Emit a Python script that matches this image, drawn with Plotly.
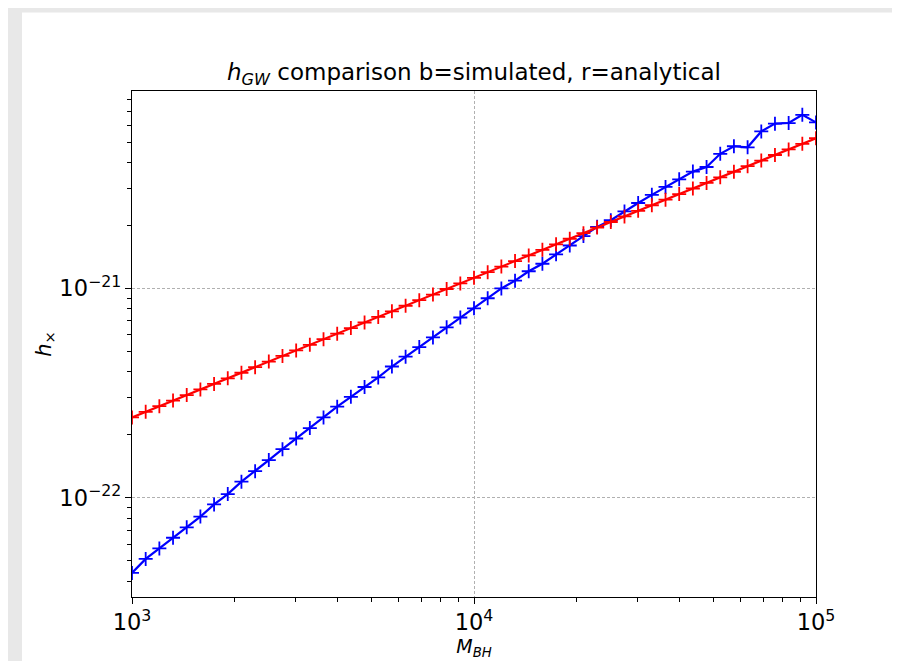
import numpy as np
import plotly.graph_objects as go

# --- DATA ---
# black hole masses, 51 log-spaced points from 1e3 to 1e5
log_m = [3.00, 3.04, 3.08, 3.12, 3.16, 3.20, 3.24, 3.28, 3.32, 3.36,
         3.40, 3.44, 3.48, 3.52, 3.56, 3.60, 3.64, 3.68, 3.72, 3.76,
         3.80, 3.84, 3.88, 3.92, 3.96, 4.00, 4.04, 4.08, 4.12, 4.16,
         4.20, 4.24, 4.28, 4.32, 4.36, 4.40, 4.44, 4.48, 4.52, 4.56,
         4.60, 4.64, 4.68, 4.72, 4.76, 4.80, 4.84, 4.88, 4.92, 4.96,
         5.00]

# simulated strain (blue)
h_simulated = [4.375e-23, 5.105e-23, 5.728e-23, 6.442e-23, 7.228e-23,
               8.128e-23, 9.290e-23, 1.042e-22, 1.194e-22, 1.340e-22,
               1.514e-22, 1.706e-22, 1.919e-22, 2.153e-22, 2.421e-22,
               2.723e-22, 3.034e-22, 3.381e-22, 3.758e-22, 4.236e-22,
               4.721e-22, 5.248e-22, 5.834e-22, 6.516e-22, 7.261e-22,
               8.035e-22, 8.974e-22, 1.000e-21, 1.089e-21, 1.208e-21,
               1.312e-21, 1.455e-21, 1.603e-21, 1.778e-21, 1.968e-21,
               2.118e-21, 2.333e-21, 2.559e-21, 2.799e-21, 3.055e-21,
               3.319e-21, 3.614e-21, 3.802e-21, 4.395e-21, 4.775e-21,
               4.721e-21, 5.623e-21, 6.124e-21, 6.166e-21, 6.745e-21,
               6.209e-21]

# analytical strain (red)
h_analytical = [2.421e-22, 2.574e-22, 2.737e-22, 2.911e-22, 3.095e-22,
                3.291e-22, 3.499e-22, 3.721e-22, 3.956e-22, 4.207e-22,
                4.473e-22, 4.757e-22, 5.058e-22, 5.378e-22, 5.719e-22,
                6.081e-22, 6.466e-22, 6.875e-22, 7.311e-22, 7.774e-22,
                8.266e-22, 8.790e-22, 9.347e-22, 9.938e-22, 1.057e-21,
                1.124e-21, 1.195e-21, 1.271e-21, 1.351e-21, 1.437e-21,
                1.528e-21, 1.624e-21, 1.727e-21, 1.836e-21, 1.953e-21,
                2.076e-21, 2.208e-21, 2.348e-21, 2.496e-21, 2.655e-21,
                2.823e-21, 3.001e-21, 3.191e-21, 3.394e-21, 3.609e-21,
                3.837e-21, 4.080e-21, 4.339e-21, 4.613e-21, 4.906e-21,
                5.216e-21]

masses = [10 ** v for v in log_m]

# --- FIGURE ---
# page has an 8px body margin all round, so keep the figure inside the window
W, H = 884, 653
L, R, T, B = 124, 76, 83, 60
pw, ph = W - L - R, H - T - B

fig = go.Figure()

marker_style = dict(symbol="cross-thin", size=10)

fig.add_trace(go.Scatter(x=masses, y=h_simulated, mode="lines+markers",
                         line=dict(color="#0000ff", width=2.2),
                         marker=dict(color="#0000ff", **marker_style,
                                     line=dict(color="#0000ff", width=1.8)),
                         showlegend=False))
fig.add_trace(go.Scatter(x=masses, y=h_analytical, mode="lines+markers",
                         line=dict(color="#ff0000", width=2.2),
                         marker=dict(color="#ff0000", **marker_style,
                                     line=dict(color="#ff0000", width=1.8)),
                         showlegend=False))

font = "DejaVu Sans"
axis_common = dict(type="log", dtick=1, exponentformat="power",
                   showline=True, linecolor="black", linewidth=1.3, mirror=True,
                   ticks="outside", ticklen=6, tickwidth=1.2, tickcolor="black",
                   showgrid=True, gridcolor="#b0b0b0", gridwidth=0.9,
                   griddash="3px,2px",
                   zeroline=False,
                   tickfont=dict(family=font, size=18, color="black"),
                   minor=dict(ticks="outside", ticklen=3.5, tickwidth=1,
                              tickcolor="black", dtick="D1", showgrid=False))

fig.update_xaxes(**axis_common, range=[3, 5],
                 title=dict(text="<i>M</i><sub><i>BH</i></sub>",
                            font=dict(family=font, size=19, color="black"),
                            standoff=0))
fig.update_yaxes(**axis_common, range=[-22.474, -20.057],
                 title=dict(text="<i>h</i><sub>×</sub>",
                            font=dict(family=font, size=21, color="black"),
                            standoff=2))

# grey page bands at top and left, the rest of the figure is white
grey = "#e8e8e8"
fig.add_shape(type="rect", xref="paper", yref="paper", layer="below",
              x0=-L / pw, x1=(W - L) / pw + 0.05,
              y0=(T + ph - 4) / ph, y1=(T + ph) / ph + 0.05,
              fillcolor=grey, line=dict(width=0))
fig.add_shape(type="rect", xref="paper", yref="paper", layer="below",
              x0=-L / pw - 0.05, x1=(14 - L) / pw,
              y0=-B / ph - 0.05, y1=(T + ph) / ph + 0.05,
              fillcolor=grey, line=dict(width=0))

fig.update_layout(
    width=W, height=H,
    margin=dict(l=L, r=R, t=T, b=B),
    paper_bgcolor="white",
    plot_bgcolor="white",
    title=dict(text="<i>h</i><sub><i>GW</i></sub> comparison b=simulated, r=analytical",
               xref="paper", x=0.5, xanchor="center",
               y=1 - 64 / H, yanchor="middle",
               font=dict(family=font, size=23, color="black")),
)

fig.write_html("out.html")
